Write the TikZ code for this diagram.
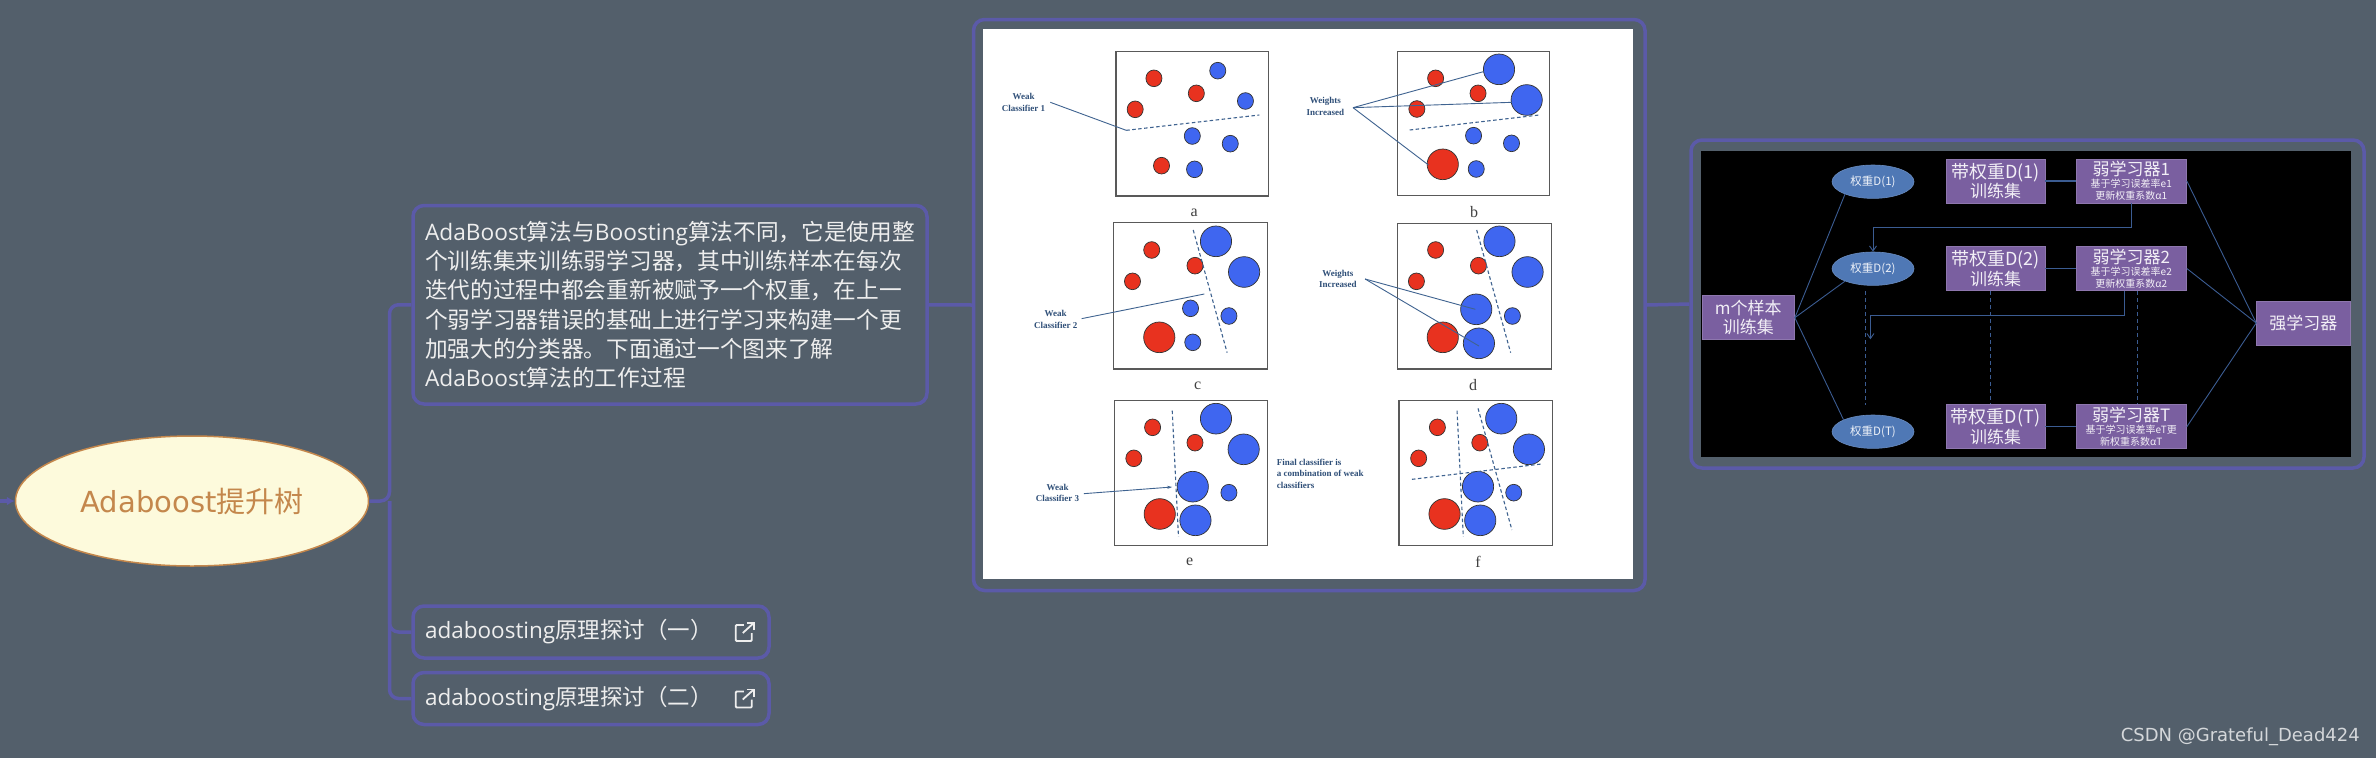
\documentclass[tikz,border=0pt]{standalone}
\usepackage{fontspec}
\setmainfont{Open Sans}
\newfontfamily\cjkfont{Noto Sans CJK SC}
\newfontfamily\rootfont{DejaVu Sans}
\newfontfamily\figfont{Liberation Serif}
\usetikzlibrary{arrows.meta,shapes.geometric}
\definecolor{bgc}{HTML}{535F6B}
\definecolor{framec}{HTML}{5B5AA8}
\definecolor{txtc}{HTML}{EEEEEE}
\definecolor{rootfill}{HTML}{FDFADC}
\definecolor{rootc}{HTML}{C4874C}
\definecolor{redc}{HTML}{E8321F}
\definecolor{bluec}{HTML}{3F66F0}
\definecolor{leadc}{HTML}{3F6390}
\definecolor{figtxt}{HTML}{2F4F78}
\definecolor{boxc}{HTML}{7A5FA0}
\definecolor{ellc}{HTML}{4F78B5}
\definecolor{netc}{HTML}{3B5C92}
\newcommand\zh[1]{{\cjkfont #1}}
\newcommand\fs[2]{\fontsize{#1}{#2}\selectfont}
\newcommand\dotR[2]{\filldraw[dotline,fill=redc] (#1,#2) ellipse [x radius=18,y radius=25];}
\newcommand\dotB[2]{\filldraw[dotline,fill=bluec] (#1,#2) ellipse [x radius=18,y radius=25];}
\newcommand\bigR[2]{\filldraw[dotline,fill=redc] (#1,#2) ellipse [x radius=35,y radius=46];}
\newcommand\bigB[2]{\filldraw[dotline,fill=bluec] (#1,#2) ellipse [x radius=35,y radius=46];}
\tikzset{
  x=1pt,y=-1pt,
  frameline/.style={draw=framec,line width=3.5pt,rounded corners=11pt},
  topicbox/.style={frameline,inner sep=0pt,text=txtc},
  branch/.style={draw=framec,line width=3.5pt,rounded corners=9pt},
  dotline/.style={draw=black!80,line width=0.7pt},
  panelbox/.style={draw=black!65,line width=1.1pt},
  sepline/.style={draw=leadc,line width=1.1pt,dash pattern=on 3.5pt off 2.5pt},
  leader/.style={draw=leadc,line width=0.9pt},
  figlabel/.style={font=\figfont\bfseries\fs{9}{11.3},text=figtxt,inner sep=0pt,align=center},
  panellabel/.style={font=\figfont\fs{16}{16},text=black!75,inner sep=0pt},
  pbox/.style={fill=boxc,draw=boxc!85!white,line width=0.6pt,inner sep=0pt,text=white!90!boxc,align=center,font=\cjkfont\fs{17}{19.5}},
  smallbox/.style={pbox,font=\cjkfont\fs{10}{12.2}},
  pell/.style={ellipse,fill=ellc,draw=ellc!85!white,line width=0.6pt,inner sep=0pt,minimum width=82pt,minimum height=33.4pt,text=white!90!ellc,font=\cjkfont\fs{11.5}{13}},
  netline/.style={draw=netc,line width=0.9pt},
  netdash/.style={draw=netc,line width=0.8pt,dash pattern=on 4pt off 3pt},
  pics/linkicon/.style={code={
    \draw[txtc,line width=1.8pt,rounded corners=1pt] (-27,-7) -- (-35,-7) -- (-35,9) -- (-19,9) -- (-19,1);
    \draw[txtc,line width=1.8pt] (-28,1) -- (-17,-9);
    \draw[txtc,line width=1.8pt] (-24,-9) -- (-17,-9) -- (-17,-2);
  }},
}
\begin{document}
\begin{tikzpicture}
\fill[bgc] (0,0) rectangle (2376,758);
\useasboundingbox (0,0) rectangle (2376,758);

% topics
\node[ellipse,fill=rootfill,draw=rootc,line width=1.5pt,minimum width=353pt,minimum height=130pt,inner sep=0pt,text=rootc,font=\rootfont\fs{29}{32}] (root) at (192,501)
  {Adaboost\zh{提升树}};
\node[topicbox,minimum width=514pt,minimum height=198.5pt,text width=490pt,align=left,font=\fs{22.7}{29.3}] (n1) at (670,304.75) {%
AdaBoost\zh{算法与}Boosting\zh{算法不同，它是使用整}\\
\zh{个训练集来训练弱学习器，其中训练样本在每次}\\
\zh{迭代的过程中都会重新被赋予一个权重，在上一}\\
\zh{个弱学习器错误的基础上进行学习来构建一个更}\\
\zh{加强大的分类器。下面通过一个图来了解}\\
AdaBoost\zh{算法的工作过程}};
\node[topicbox,minimum width=356pt,minimum height=52pt,text width=332pt,align=left,font=\fs{22.5}{26}] (l1) at (591,632) {adaboosting\zh{原理探讨（一）}};
\node[topicbox,minimum width=356pt,minimum height=52pt,text width=332pt,align=left,font=\fs{22.5}{26}] (l2) at (591,698.5) {adaboosting\zh{原理探讨（二）}};
\pic at (l1.east) {linkicon};
\pic at (l2.east) {linkicon};
\node[frameline,minimum width=671.5pt,minimum height=571pt,inner sep=0pt] (imgL) at (1309.25,305) {};
\node[frameline,minimum width=673pt,minimum height=328pt,inner sep=0pt] (imgR) at (2027.5,304) {};

% branches
\coordinate (stub) at (0,501);
\draw[draw=framec,line width=3.5pt,-{Latex[length=8pt,width=9pt]}] (stub) -- (root.west);
\coordinate (trunk) at (389.5,501);
\draw[branch] (root.east) -- (trunk) |- (n1.west);
\draw[branch] (trunk) |- (l1.west);
\draw[branch] (trunk) |- (l2.west);
\draw[branch] (n1.east) -- (imgL.west);
\draw[branch] (imgL.east) -- (imgR.west);

% left picture
\fill[white] (983,29) rectangle (1633,579);
\begin{scope}[shift={(970,10)},xscale=1/2.24,yscale=1/3]
  % a
  \draw[panelbox] (327,125) rectangle (669,558);
  \dotR{412}{205}\dotR{507}{250}\dotR{370}{298}\dotR{429}{467}
  \dotB{555}{182}\dotB{617}{273}\dotB{498}{378}\dotB{583}{401}\dotB{503}{478}
  \coordinate (aend) at (350,361);
  \draw[sepline] (aend) -- (648,315);
  \node[figlabel] (alab) at (120,277) {Weak\\Classifier 1};
  \coordinate (afrom) at (180,277);
  \draw[leader] (afrom) -- (aend);
  \node[panellabel] (pa) at (502,608) {a};
  % b
  \draw[panelbox] (958,125) rectangle (1299,556);
  \dotR{1043}{205}\dotR{1138}{250}\dotR{1001}{297}\bigR{1059}{463}
  \bigB{1185}{178}\bigB{1247}{270}\dotB{1128}{377}\dotB{1213}{400}\dotB{1134}{477}
  \draw[sepline] (985,360) -- (1275,315);
  \node[figlabel] (blab) at (796,289) {Weights\\Increased};
  \coordinate (bfrom) at (858,293);
  \draw[leader] (bfrom) -- (1150,185);
  \draw[leader] (bfrom) -- (1213,277);
  \draw[leader] (bfrom) -- (1027,465);
  \node[panellabel] (pb) at (1129,605) {b};
  % c
  \draw[panelbox] (321,638) rectangle (667,1077);
  \dotR{407}{720}\dotR{504}{767}\dotR{364}{814}\bigR{424}{982}
  \bigB{551}{694}\bigB{614}{786}\dotB{494}{895}\dotB{580}{918}\dotB{499}{997}
  \draw[sepline] (500,660) -- (576,1028);
  \node[figlabel] (clab) at (192,928) {Weak\\Classifier 2};
  \coordinate (cfrom) at (250,926);
  \draw[leader] (cfrom) -- (525,852);
  \node[panellabel] (pc) at (510,1127) {c};
  % d
  \draw[panelbox] (957,640) rectangle (1302,1077);
  \dotR{1043}{720}\dotR{1139}{767}\dotR{1000}{814}\bigR{1059}{982}
  \bigB{1186}{694}\bigB{1249}{786}\bigB{1134}{898}\bigB{1140}{1000}\dotB{1215}{918}
  \draw[sepline] (1135,660) -- (1211,1028);
  \node[figlabel] (dlab) at (824,806) {Weights\\Increased};
  \coordinate (dfrom) at (885,807);
  \draw[leader] (dfrom) -- (1132,898);
  \draw[leader] (dfrom) -- (1140,1008);
  \node[panellabel] (pd) at (1127,1125) {d};
  % e
  \draw[panelbox] (323,1172) rectangle (666,1606);
  \dotR{409}{1252}\dotR{504}{1298}\dotR{367}{1345}\bigR{425}{1512}
  \bigB{551}{1226}\bigB{613}{1318}\bigB{499}{1430}\bigB{505}{1531}\dotB{580}{1448}
  \draw[sepline] (453,1202) -- (467,1580);
  \node[figlabel] (elab) at (196,1449) {Weak\\Classifier 3};
  \coordinate (efrom) at (255,1451);
  \draw[leader,-{Stealth[length=5pt,width=3pt]}] (efrom) -- (453,1431);
  \node[figlabel,align=left,anchor=west] (ftext) at (687,1391) {Final classifier is\\a combination of weak\\classifiers};
  \node[panellabel] (pe) at (492,1655) {e};
  % f
  \draw[panelbox] (961,1172) rectangle (1305,1606);
  \dotR{1047}{1252}\dotR{1142}{1298}\dotR{1005}{1345}\bigR{1063}{1512}
  \bigB{1190}{1226}\bigB{1252}{1318}\bigB{1138}{1430}\bigB{1143}{1531}\dotB{1218}{1448}
  \draw[sepline] (1091,1202) -- (1105,1580);
  \draw[sepline] (1138,1195) -- (1214,1560);
  \draw[sepline] (990,1408) -- (1280,1362);
  \node[panellabel] (pf) at (1138,1657) {f};
\end{scope}

% right picture
\fill[black] (1701,151) rectangle (2351,457);
\node[pbox,minimum width=92.5pt,minimum height=44pt] (m) at (1748.25,317.7) {m个样本\\训练集};
\node[pell] (e1) at (1873,181.7) {权重D(1)};
\node[pell] (e2) at (1873,268.7) {权重D(2)};
\node[pell] (eT) at (1873,431.7) {权重D(T)};
\node[pbox,minimum width=99pt,minimum height=44pt] (d1) at (1995.5,181) {\fs{18}{20}带权重D(1)\\训练集};
\node[pbox,minimum width=99pt,minimum height=44.5pt] (d2) at (1995.5,268.5) {\fs{18}{20}带权重D(2)\\训练集};
\node[pbox,minimum width=99pt,minimum height=44pt] (dT) at (1995.5,426.7) {\fs{18}{20}带权重D(T)\\训练集};
\node[smallbox,minimum width=110.5pt,minimum height=44pt] (w1) at (2131.25,181) {\fs{17}{19}弱学习器1\\基于学习误差率e1\\更新权重系数α1};
\node[smallbox,minimum width=110.5pt,minimum height=44.5pt] (w2) at (2131.25,268.5) {\fs{17}{19}弱学习器2\\基于学习误差率e2\\更新权重系数α2};
\node[smallbox,minimum width=110.5pt,minimum height=44pt] (wT) at (2131.25,426.7) {\fs{17}{19}弱学习器T\\基于学习误差率eT更\\新权重系数αT};
\node[pbox,minimum width=93.5pt,minimum height=44pt] (s) at (2303.25,323) {强学习器};

\draw[netline] (m.east) -- (e1.204);
\draw[netline] (m.east) -- (e2.204);
\draw[netline] (m.east) -- (eT.158);
\draw[netline] (w1.east) -- (s.west);
\draw[netline] (w2.east) -- (s.west);
\draw[netline] (wT.east) -- (s.west);
\draw[netline,line width=1.1pt] (d1.east) -- (w1.west);
\draw[netline,line width=1.1pt] (d2.east) -- (w2.west);
\draw[netline,line width=1.1pt] (dT.east) -- (wT.west);
\draw[netline,-{Straight Barb[length=5pt,width=7pt]}] (w1.south) -- ++(0,23.7) -| (e2.north);
\coordinate (w2out) at (2124,291);
\coordinate (w2end) at (1870.4,339.3);
\draw[netline,-{Straight Barb[length=5pt,width=7pt]}] (w2out) |- (1870.4,315) -- (w2end);
\coordinate (dotsA) at (1865,291);
\coordinate (dotsB) at (1865,405);
\draw[netdash] (dotsA) -- (dotsB);
\draw[netdash] ([xshift=-5.5pt]d2.south) -- ([xshift=-5.5pt]dT.north);
\draw[netdash] ([xshift=6.5pt]w2.south) -- ([xshift=6.5pt]wT.north);

\node[anchor=east,inner sep=0pt,text=white!75!bgc,font=\rootfont\fs{18}{20}] (mark) at (2360,737) {CSDN @Grateful\_Dead424};
\end{tikzpicture}
\end{document}
